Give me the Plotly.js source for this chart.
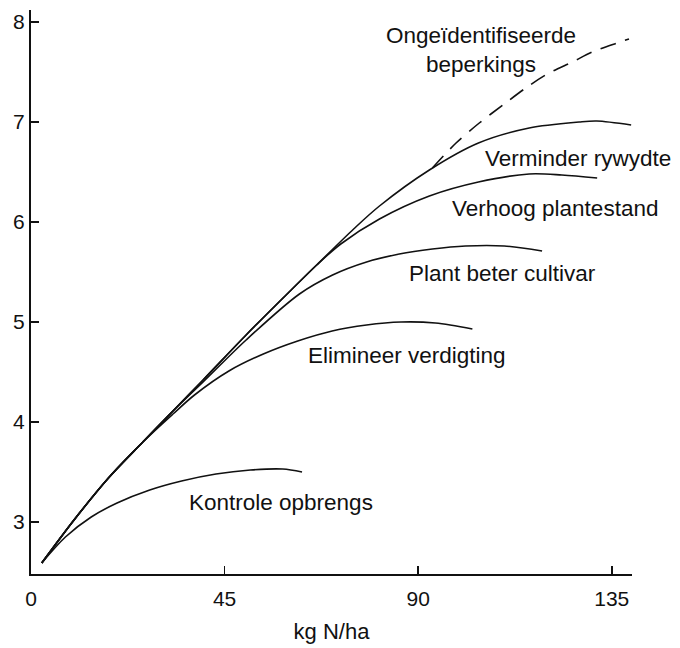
<!DOCTYPE html>
<html>
<head>
<meta charset="utf-8">
<script src="https://cdn.plot.ly/plotly-3.0.1.min.js"></script>
<style>html,body{margin:0;padding:0;background:#fff;}#chart{width:680px;height:648px;}</style>
</head>
<body>
<div id="chart"></div>
<script>
// Nitrogen rate (kg N/ha) and yield for each curve
const kontroleX = [2.5, 8, 14, 20, 27.6, 35, 43, 51, 58.5, 63];
const kontroleY = [2.59, 2.85, 3.05, 3.19, 3.32, 3.41, 3.48, 3.52, 3.53, 3.50];

const elimineerX = [2.5, 10, 18, 26, 33, 38, 46, 54, 62, 70, 78, 86, 94, 102.6];
const elimineerY = [2.59, 3.02, 3.44, 3.80, 4.08, 4.27, 4.51, 4.68, 4.81, 4.91, 4.97, 5.00, 4.99, 4.93];

const plantX = [2.5, 10, 18, 26, 33, 40, 50, 62.4, 70.1, 78, 85.6, 93.3, 101, 110, 118.8];
const plantY = [2.59, 3.02, 3.44, 3.80, 4.11, 4.40, 4.82, 5.28, 5.47, 5.60, 5.68, 5.73, 5.76, 5.76, 5.71];

const verhoogX = [2.5, 10, 18, 26, 33, 40, 50, 60, 66.4, 72, 81, 92.6, 104, 115.8, 123.4, 131.6];
const verhoogY = [2.59, 3.02, 3.44, 3.80, 4.11, 4.42, 4.87, 5.30, 5.57, 5.78, 6.03, 6.26, 6.40, 6.48, 6.47, 6.44];

const verminderX = [2.5, 10, 18, 26, 33, 40, 50, 60, 66.4, 75, 81, 92.6, 104, 115.8, 127.4, 131.5, 139.5];
const verminderY = [2.59, 3.02, 3.44, 3.80, 4.11, 4.42, 4.87, 5.30, 5.57, 5.93, 6.16, 6.52, 6.79, 6.94, 7.00, 7.01, 6.97];

const ongeidX = [93.3, 98.8, 104.2, 110, 115, 120, 125.8, 131, 136.2, 139];
const ongeidY = [6.54, 6.79, 6.99, 7.18, 7.34, 7.48, 7.60, 7.71, 7.79, 7.83];

const xTicks = [0, 45, 90, 135];
const yTicks = [3, 4, 5, 6, 7, 8];

const curveLabels = ["Kontrole opbrengs", "Elimineer verdigting", "Plant beter cultivar",
  "Verhoog plantestand", "Verminder rywydte", "Ongeïdentifiseerde<br>beperkings"];

const FONT = "Liberation Sans, Arial, Helvetica, sans-serif";
const ink = "#111";

function solid(x, y) {
  return {x: x, y: y, type: "scatter", mode: "lines",
    line: {color: ink, width: 1.6, shape: "spline", smoothing: 0.9},
    hoverinfo: "skip", showlegend: false};
}

const traces = [
  solid(kontroleX, kontroleY),
  solid(elimineerX, elimineerY),
  solid(plantX, plantY),
  solid(verhoogX, verhoogY),
  solid(verminderX, verminderY),
  {x: ongeidX, y: ongeidY, type: "scatter", mode: "lines",
    line: {color: ink, width: 1.6, dash: "16px,10px", shape: "spline", smoothing: 0.9},
    hoverinfo: "skip", showlegend: false}
];

// label anchor positions (data coordinates)
const labelPos = [[58.2, 3.20], [87.5, 4.67], [109.5, 5.49], [121.8, 6.14], [127.1, 6.64], [104.5, 7.72]];

const annotations = curveLabels.map(function (t, i) {
  return {text: t, x: labelPos[i][0], y: labelPos[i][1], xref: "x", yref: "y",
    showarrow: false, xanchor: "center", yanchor: "middle",
    font: {family: FONT, size: 22.5, color: ink}};
});

const layout = {
  width: 680, height: 648,
  margin: {l: 31, r: 48, t: 10, b: 74},
  paper_bgcolor: "#fff", plot_bgcolor: "#fff",
  font: {family: FONT, size: 21, color: ink},
  xaxis: {
    range: [0, 139.7], tickvals: xTicks, ticktext: xTicks.map(String),
    showgrid: false, zeroline: false, showline: true, linecolor: ink, linewidth: 2,
    ticks: "inside", ticklen: 8, tickwidth: 1.5, tickcolor: ink,
    ticklabelstandoff: 5,
    tickfont: {family: FONT, size: 21, color: ink},
    title: {text: "kg N/ha", font: {family: FONT, size: 22, color: ink}, standoff: 14}
  },
  yaxis: {
    range: [2.48, 8.12], tickvals: yTicks, ticktext: yTicks.map(String),
    showgrid: false, zeroline: false, showline: true, linecolor: ink, linewidth: 2,
    ticks: "inside", ticklen: 8, tickwidth: 1.5, tickcolor: ink,
    ticklabelstandoff: 0,
    tickfont: {family: FONT, size: 21, color: ink}
  },
  annotations: annotations
};

Plotly.newPlot("chart", traces, layout, {staticPlot: true, displayModeBar: false});
</script>
</body>
</html>
